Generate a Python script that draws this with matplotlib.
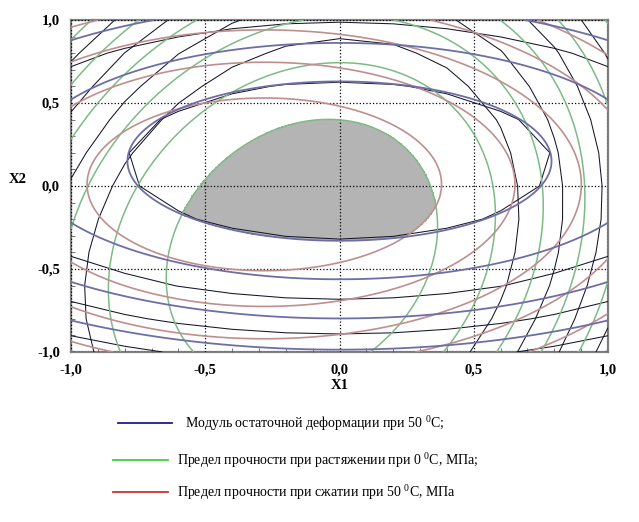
import numpy as np
import matplotlib.pyplot as plt
from matplotlib.ticker import MultipleLocator, FuncFormatter
from matplotlib.lines import Line2D

plt.rcParams['font.family'] = ['Liberation Serif', 'DejaVu Serif']
plt.rcParams['mathtext.fontset'] = 'custom'
plt.rcParams['mathtext.rm'] = 'Liberation Serif'

# coeficientes de los modelos cuadraticos (valores codificados X1, X2)
# y = b0 + b1*x1 + b2*x2 + b12*x1*x2 + b11*x1^2 + b22*x2^2
coef_modulo = [0.098, 0.0, -1.302, 0.0, 1.603, 4.340]        # azul
coef_traccion = [5.0, 13.06, 20.43, -17.83, 72.09, 28.66]    # verde
coef_compresion = [0.180, 1.286, -0.074, 0.0, 2.296, 3.698]  # rojo

niveles_azul = [1.0, 2.2, 3.9, 5.6, 7.3, 9.0]
niveles_verde = [17.7, 36.0, 56.0, 77.0, 98.0, 120.0]
niveles_rojo = [1.0, 2.0, 3.2, 4.5, 6.0]
niveles_negro_azul = [1.0, 3.05, 4.75, 6.45, 8.15]
niveles_negro_verde = [46.0, 66.0, 87.0, 109.0]

ticks = [-1.0, -0.5, 0.0, 0.5, 1.0]
leyenda = ['Модуль остаточной деформации при 50 $^{0}$С;',
           'Предел прочности при растяжении при 0 $^{0}$С, МПа;',
           'Предел прочности при сжатии при 50 $^{0}$С, МПа']


def superficie(coef, x1, x2):
    b0, b1, b2, b12, b11, b22 = coef
    return b0 + b1 * x1 + b2 * x2 + b12 * x1 * x2 + b11 * x1 ** 2 + b22 * x2 ** 2


# malla fina para las lineas de color y gruesa para las negras
x1f, x2f = np.meshgrid(np.linspace(-1, 1, 301), np.linspace(-1, 1, 301))
x1g, x2g = np.meshgrid(np.linspace(-1, 1, 11), np.linspace(-1, 1, 11))

azul = superficie(coef_modulo, x1f, x2f)
verde = superficie(coef_traccion, x1f, x2f)
rojo = superficie(coef_compresion, x1f, x2f)

fig = plt.figure(figsize=(6.39, 5.22), dpi=100)
ax = fig.add_axes([71 / 639, 1 - 352 / 522, (608 - 71) / 639, (352 - 20) / 522])

# zona optima (gris)
zona = ((verde < niveles_verde[0]) & (azul < niveles_azul[0]) & (rojo < niveles_rojo[0])).astype(float)
ax.contourf(x1f, x2f, zona, levels=[0.5, 1.5], colors=['#b4b4b4'], zorder=1)

ax.contour(x1g, x2g, superficie(coef_modulo, x1g, x2g), levels=niveles_negro_azul,
           colors='#15152a', linewidths=0.75, zorder=3)
ax.contour(x1g, x2g, superficie(coef_traccion, x1g, x2g), levels=niveles_negro_verde,
           colors='#15152a', linewidths=0.75, zorder=3)
ax.contour(x1f, x2f, verde, levels=niveles_verde, colors='#7dbb85', linewidths=1.1, zorder=4)
ax.contour(x1f, x2f, rojo, levels=niveles_rojo, colors='#bf8f8f', linewidths=1.2, zorder=4)
ax.contour(x1f, x2f, azul, levels=niveles_azul, colors='#6e6ea6', linewidths=1.3, zorder=4)

ax.set_xlim(-1, 1)
ax.set_ylim(-1, 1)
ax.set_xticks(ticks)
ax.set_yticks(ticks)
ax.xaxis.set_minor_locator(MultipleLocator(0.1))
ax.yaxis.set_minor_locator(MultipleLocator(0.1))
fmt = FuncFormatter(lambda v, p: f'{v:.1f}'.replace('.', ','))
ax.xaxis.set_major_formatter(fmt)
ax.yaxis.set_major_formatter(fmt)
ax.tick_params(which='both', direction='in', color='#606060')
ax.tick_params(which='major', length=0, labelsize=10.5, pad=8)
ax.tick_params(which='minor', length=3)
for lab in ax.get_xticklabels() + ax.get_yticklabels():
    lab.set_fontweight('bold')
ax.grid(True, which='major', linestyle=':', color='black', linewidth=0.9, zorder=2)
ax.set_axisbelow(False)
for s in ax.spines.values():
    s.set_color('#808080')
    s.set_linewidth(1.6)

ax.set_xlabel('X1', fontweight='bold', fontsize=10.5, labelpad=2)
ax.set_ylabel('X2', fontweight='bold', fontsize=10.5, rotation=0, labelpad=14)

# leyenda inferior
colores = ['#1c1c8c', '#44cc44', '#cc3333']
filas_y = [423, 460, 492]
linea_x = [(118, 172), (113, 168), (113, 168)]
texto_x = [185, 177, 177]
for i in range(3):
    yy = 1 - filas_y[i] / 522
    fig.add_artist(Line2D([linea_x[i][0] / 639, linea_x[i][1] / 639], [yy, yy],
                          color=colores[i], linewidth=1.3))
    fig.text(texto_x[i] / 639, yy, leyenda[i], fontsize=10, va='center', ha='left')

fig.savefig('out.png', dpi=100)
